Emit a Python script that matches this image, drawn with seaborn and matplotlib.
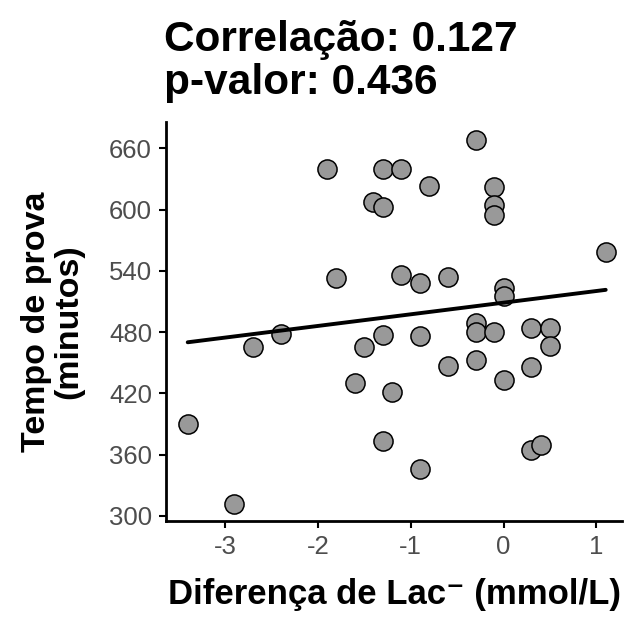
import matplotlib
matplotlib.use("Agg")
import matplotlib.pyplot as plt
import seaborn as sns
import pandas as pd

# diferença de lactato (mmol/L) e tempo de prova (min)
dif_lac = [-1.9, -1.3, -1.1, -1.4, -1.3, -1.8, -1.1, -2.4, -2.7, -1.3,
           -1.5, -1.6, -1.2, -3.4, -1.3, -2.9, -0.3, -0.8, -0.1, -0.1,
           -0.1, 1.1, -0.9, -0.6, 0.0, 0.0, -0.9, -0.3, -0.3, -0.1,
           0.3, 0.5, 0.5, -0.6, -0.3, 0.3, 0.0, 0.3, 0.4, -0.9]
tempo = [640, 640, 640, 607, 602, 533, 536, 478, 465, 477,
         465, 430, 421, 390, 373, 312, 668, 623, 622, 604,
         595, 558, 528, 534, 523, 515, 476, 489, 480, 480,
         484, 484, 466, 447, 453, 446, 433, 364, 369, 346]

titulo = "Correlação: 0.127\np-valor: 0.436"
rotulo_x = "Diferença de Lac⁻ (mmol/L)"
rotulo_y = "Tempo de prova\n(minutos)"
ticks_x = [-3, -2, -1, 0, 1]
ticks_y = [300, 360, 420, 480, 540, 600, 660]

df = pd.DataFrame({"dif_lac": dif_lac, "tempo": tempo})

sns.set_style("ticks")
plt.rcParams["font.family"] = ["Liberation Sans", "DejaVu Sans"]
plt.rcParams["axes.unicode_minus"] = False
plt.rcParams["text.color"] = "black"
plt.rcParams["axes.labelcolor"] = "black"

fig = plt.figure(figsize=(6.26, 6.23), dpi=100)
ax = fig.add_axes([0.265, 0.164, 0.729, 0.640])

sns.regplot(data=df, x="dif_lac", y="tempo", ax=ax, ci=None,
            scatter_kws=dict(s=190, color="#999999", edgecolor="black",
                             linewidths=1.1, alpha=1, zorder=2),
            line_kws=dict(color="black", lw=2.8, zorder=3))

ax.set_xlim(-3.635, 1.278)
ax.set_ylim(295.1, 685.6)
ax.set_xticks(ticks_x)
ax.set_yticks(ticks_y)
ax.tick_params(labelsize=18.5, labelcolor="#4D4D4D", length=5, width=1.5,
               color="black", pad=5)

for lado in ["top", "right"]:
    ax.spines[lado].set_visible(False)
for lado in ["left", "bottom"]:
    ax.spines[lado].set_linewidth(2)
    ax.spines[lado].set_color("black")

ax.set_xlabel(rotulo_x, fontsize=25, fontweight="bold", labelpad=14)
ax.set_ylabel(rotulo_y, fontsize=24.5, fontweight="bold", labelpad=18,
              linespacing=1.05)
ax.set_title(titulo, loc="left", fontsize=30.5, fontweight="bold",
             pad=20, linespacing=1.12, x=-0.005)

fig.savefig("out.png", dpi=100)
plt.close(fig)
